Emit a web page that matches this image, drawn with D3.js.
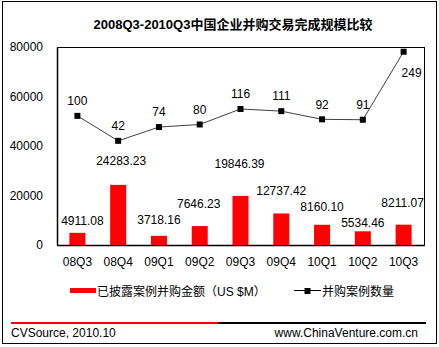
<!DOCTYPE html>
<html>
<head>
<meta charset="utf-8">
<script src="https://cdn.jsdelivr.net/npm/d3@7/dist/d3.min.js"></script>
<style>
  html, body { margin: 0; padding: 0; background: #fff; }
  svg { display: block; }
  text { font-family: "Liberation Sans", Arial, "Noto Sans CJK SC", sans-serif; fill: #000; }
</style>
</head>
<body>
<svg id="chart" width="439" height="347"></svg>
<script>
// Quarterly categories
const quarters = ["08Q3", "08Q4", "09Q1", "09Q2", "09Q3", "09Q4", "10Q1", "10Q2", "10Q3"];
// Disclosed deal value (US $M)
const dealValue = [4911.08, 24283.23, 3718.16, 7646.23, 19846.39, 12737.42, 8160.10, 5534.46, 8211.07];
// Number of completed deals
const dealCount = [100, 42, 74, 80, 116, 111, 92, 91, 249];
// Left axis ticks
const valueTicks = [0, 20000, 40000, 60000, 80000];

// Hand-placed offsets of the value labels relative to each bar top
const barLabelDx = [5, 3, 0, -1, -1, 0, 0, 0, -1];
const barLabelDy = [-12, -24, -16, -22, -32, -23, -18, -9, -22];

const svg = d3.select("#chart");
const plot = { left: 57, right: 424, top: 47, bottom: 245 };

// Outer frame
svg.append("rect")
  .attr("x", 2.5).attr("y", 1.5).attr("width", 434).attr("height", 342)
  .attr("fill", "none").attr("stroke", "#000").attr("stroke-width", 1);

// Title
svg.append("text")
  .attr("x", 233).attr("y", 29)
  .attr("text-anchor", "middle")
  .style("font-size", "13px").style("font-weight", "bold")
  .text("2008Q3-2010Q3中国企业并购交易完成规模比较");

const x = d3.scaleBand().domain(quarters).range([plot.left, plot.right]).paddingInner(0).paddingOuter(0);
const y = d3.scaleLinear().domain([0, 80000]).range([plot.bottom, plot.top]);
// Secondary (hidden) scale for the deal count line
const y2 = d3.scaleLinear().domain([-200, 260]).range([plot.bottom, plot.top]);

// Plot frame
svg.append("rect")
  .attr("x", plot.left + 0.5).attr("y", plot.top + 0.5)
  .attr("width", plot.right - plot.left).attr("height", plot.bottom - plot.top)
  .attr("fill", "none").attr("stroke", "#000").attr("stroke-width", 1);

// Left axis
const yAxis = svg.append("g")
  .attr("transform", `translate(${plot.left},0)`)
  .call(d3.axisLeft(y).tickValues(valueTicks).tickSize(0).tickPadding(14).tickFormat(d3.format("d")));
yAxis.select(".domain").attr("stroke", "#000").attr("stroke-width", 1.5);
yAxis.selectAll("text").style("font-size", "12px").attr("font-family", null);

// Bottom axis
const xAxis = svg.append("g")
  .attr("transform", `translate(0,${plot.bottom})`)
  .call(d3.axisBottom(x).tickSize(0).tickPadding(12));
xAxis.select(".domain").attr("stroke", "#000").attr("stroke-width", 1.5);
xAxis.selectAll("text").style("font-size", "12px").attr("font-family", null);

// Bars
const barW = 16;
svg.append("g").selectAll("rect")
  .data(dealValue)
  .join("rect")
  .attr("x", (d, i) => x(quarters[i]) + x.bandwidth() / 2 - barW / 2)
  .attr("y", d => y(d))
  .attr("width", barW)
  .attr("height", d => y(0) - y(d))
  .attr("fill", "#ff0000");

// Bar value labels
svg.append("g").selectAll("text")
  .data(dealValue)
  .join("text")
  .attr("x", (d, i) => x(quarters[i]) + x.bandwidth() / 2 + barLabelDx[i])
  .attr("y", (d, i) => y(d) + barLabelDy[i] + 4.3)
  .attr("text-anchor", "middle")
  .style("font-size", "12px")
  .text(d => d.toFixed(2));

// Deal count line
const cx = (d, i) => x(quarters[i]) + x.bandwidth() / 2;
const line = d3.line().x(cx).y(d => y2(d));
svg.append("path")
  .datum(dealCount)
  .attr("d", line)
  .attr("fill", "none")
  .attr("stroke", "#404040")
  .attr("stroke-width", 1);

svg.append("g").selectAll("rect")
  .data(dealCount)
  .join("rect")
  .attr("x", (d, i) => cx(d, i) - 3)
  .attr("y", d => y2(d) - 3)
  .attr("width", 6).attr("height", 6)
  .attr("fill", "#000");

// Line value labels: above the point, or below-right when there is no room above
svg.append("g").selectAll("text")
  .data(dealCount)
  .join("text")
  .each(function (d, i) {
    const py = y2(d);
    const room = py - 15 - 6 > plot.top;
    d3.select(this)
      .attr("x", cx(d, i) + (room ? 0 : 8))
      .attr("y", room ? py - 15 + 4.3 : py + 21 + 4.3);
  })
  .attr("text-anchor", "middle")
  .style("font-size", "12px")
  .text(d => d);

// Legend
const lg = svg.append("g");
lg.append("rect").attr("x", 70).attr("y", 288).attr("width", 26).attr("height", 5).attr("fill", "#ff0000");
lg.append("text").attr("x", 97).attr("y", 295.5).style("font-size", "12px")
  .text("已披露案例并购金额（US $M）");
lg.append("line").attr("x1", 294).attr("x2", 321).attr("y1", 290.5).attr("y2", 290.5)
  .attr("stroke", "#000").attr("stroke-width", 1);
lg.append("rect").attr("x", 304.5).attr("y", 288).attr("width", 6).attr("height", 6).attr("fill", "#000");
lg.append("text").attr("x", 322).attr("y", 295.5).style("font-size", "12px")
  .text("并购案例数量");

// Footer rule and credits
svg.append("line").attr("x1", 11).attr("x2", 218).attr("y1", 323).attr("y2", 323)
  .attr("stroke", "#ff0000").attr("stroke-width", 2);
svg.append("line").attr("x1", 218).attr("x2", 426).attr("y1", 323).attr("y2", 323)
  .attr("stroke", "#000").attr("stroke-width", 2);
svg.append("text").attr("x", 11).attr("y", 336.5).style("font-size", "12px").text("CVSource, 2010.10");
svg.append("text").attr("x", 418).attr("y", 336.5).attr("text-anchor", "end").style("font-size", "12px")
  .text("www.ChinaVenture.com.cn");
</script>
</body>
</html>
